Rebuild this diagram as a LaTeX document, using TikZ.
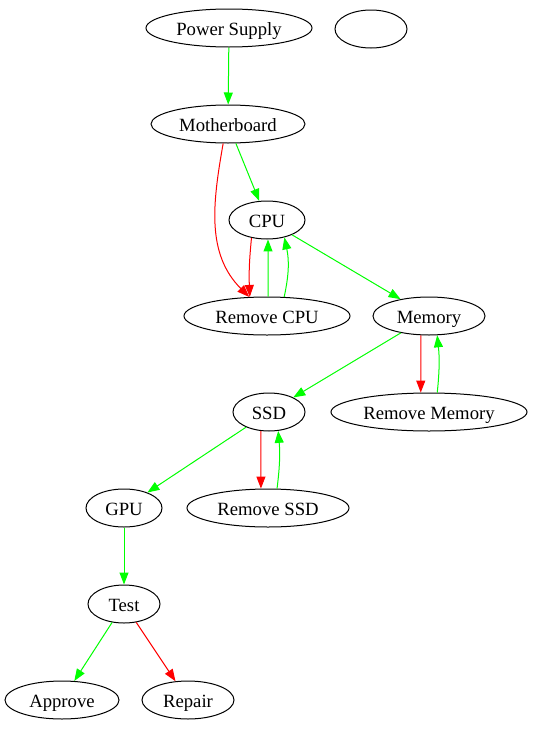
\documentclass[tikz,border=0pt]{standalone}
\usepackage{fontspec}
\setmainfont{Liberation Serif}
\newfontfamily\partfont{Liberation Serif}
\usepackage{tikz}
\usetikzlibrary{arrows.meta,shapes.geometric}
\definecolor{okgreen}{RGB}{0,255,0}
\definecolor{badred}{RGB}{255,0,0}

\begin{document}
\begin{tikzpicture}[x=1pt,y=-1pt,
  part/.style={draw,ellipse,line width=1pt,inner sep=0pt,minimum height=38pt,text height=16pt,text depth=2pt,font=\partfont\fontsize{18.7}{21}\selectfont},
  edge/.style={line width=1pt,-{Triangle[length=12pt,width=9pt]}},
  pass/.style={edge,draw=okgreen},
  fail/.style={edge,draw=badred}]
\useasboundingbox (0,0) rectangle (533,731);
% nodes
\node[part,minimum width=166pt] (psu) at (229,28) {Power Supply};
\node[part,minimum width=72pt] (blank) at (371,29) {};
\node[part,minimum width=154pt] (mb) at (228,124) {Motherboard};
\node[part,minimum width=76pt] (cpu) at (267,220) {CPU};
\node[part,minimum width=166pt] (rcpu) at (267,316) {Remove CPU};
\node[part,minimum width=112pt] (mem) at (429,316) {Memory};
\node[part,minimum width=72pt] (ssd) at (269,412) {SSD};
\node[part,minimum width=196pt] (rmem) at (429,412) {Remove Memory};
\node[part,minimum width=76pt] (gpu) at (124,508) {GPU};
\node[part,minimum width=162pt] (rssd) at (268,508) {Remove SSD};
\node[part,minimum width=72pt] (test) at (124,604) {Test};
\node[part,minimum width=114pt] (ok) at (62,700) {Approve};
\node[part,minimum width=92pt] (fix) at (188,700) {Repair};
% edges
\draw[pass] (psu) -- (mb);
\draw[pass] (mb) -- (cpu);
\draw[fail] (mb.256) to[out=-100,in=135] (rcpu.133);
\draw[fail] (cpu.229) to[bend right=4] (rcpu.132);
\draw[pass] (rcpu.87) -- (cpu.273);
\draw[pass] (rcpu.48) to[bend right=12] (cpu.315);
\draw[pass] (cpu) -- (mem);
\draw[fail] (mem.247) -- (rmem.113);
\draw[pass] (rmem.67) to[bend right=6] (mem.293);
\draw[pass] (mem) -- (ssd);
\draw[fail] (ssd.247) -- (rssd.110);
\draw[pass] (rssd.65) to[bend right=6] (ssd.296);
\draw[pass] (ssd) -- (gpu);
\draw[pass] (gpu) -- (test);
\draw[pass] (test) -- (ok);
\draw[fail] (test) -- (fix);
\end{tikzpicture}
\end{document}
